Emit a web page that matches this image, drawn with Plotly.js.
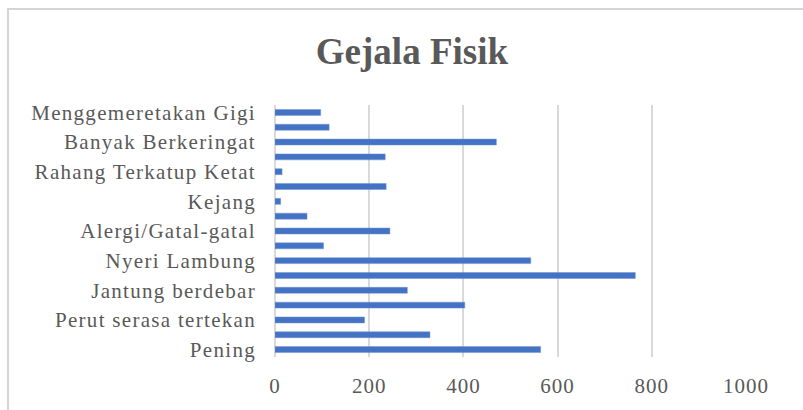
<!DOCTYPE html>
<html>
<head>
<meta charset="utf-8">
<script src="https://cdn.plot.ly/plotly-3.0.1.min.js"></script>
<style>
html,body{margin:0;padding:0;background:#fff;}
#wrap{position:relative;width:803px;height:410px;}
#chart{position:absolute;left:0;top:0;width:803px;height:410px;}
#frame{position:absolute;left:7px;top:8px;width:820px;height:420px;border-left:2px solid #d4d4d4;border-top:2px solid #d4d4d4;pointer-events:none;}
#chart .ytick text{letter-spacing:1.3px;}
#chart .xtick text{letter-spacing:1px;}
</style>
</head>
<body>
<div id="wrap"><div id="chart"></div><div id="frame"></div></div>
<script>
// values from bottom (Pening) to top (Menggemeretakan Gigi)
const values = [564, 329, 190, 403, 281, 765, 543, 103, 244, 68, 12, 236, 15, 234, 470, 115, 97];
const labelPositions = [0, 2, 4, 6, 8, 10, 12, 14, 16];
const labelTexts = ["Pening", "Perut serasa tertekan", "Jantung berdebar", "Nyeri Lambung",
  "Alergi/Gatal-gatal", "Kejang", "Rahang Terkatup Ketat", "Banyak Berkeringat", "Menggemeretakan Gigi"];
const xTicks = [0, 200, 400, 600, 800, 1000];
const titleText = "Gejala Fisik";

const positions = values.map((v, i) => i);

const trace = {
  type: 'bar',
  orientation: 'h',
  x: values,
  y: positions,
  marker: {color: '#4472C4', line: {color: '#6f93d3', width: 0.5}},
  hoverinfo: 'x'
};

const font = 'Liberation Serif, Times New Roman, serif';
const layout = {
  width: 803, height: 410,
  margin: {l: 275, r: 57, t: 105, b: 53},
  paper_bgcolor: 'rgba(0,0,0,0)',
  plot_bgcolor: 'rgba(0,0,0,0)',
  bargap: 0.6,
  showlegend: false,
  title: {text: '<b>' + titleText + '</b>', x: 0.513, xanchor: 'center', y: 0.875, yanchor: 'middle',
          font: {family: font, size: 37, color: '#595959'}},
  xaxis: {range: [0, 1000], tickvals: xTicks, ticktext: xTicks.map(String),
          showgrid: true, gridcolor: '#d9d9d9', gridwidth: 2, zeroline: true, zerolinecolor: '#d9d9d9', zerolinewidth: 2,
          showline: false, ticks: '', ticklabelstandoff: 14,
          tickfont: {family: font, size: 21, color: '#595959'}, fixedrange: true},
  yaxis: {range: [-0.5, 16.5], tickvals: labelPositions, ticktext: labelTexts,
          showgrid: false, zeroline: false, showline: false, ticks: '', ticklabelstandoff: 18,
          tickfont: {family: font, size: 21, color: '#595959'}, fixedrange: true}
};

Plotly.newPlot('chart', [trace], layout, {displayModeBar: false, staticPlot: true});
</script>
</body>
</html>
